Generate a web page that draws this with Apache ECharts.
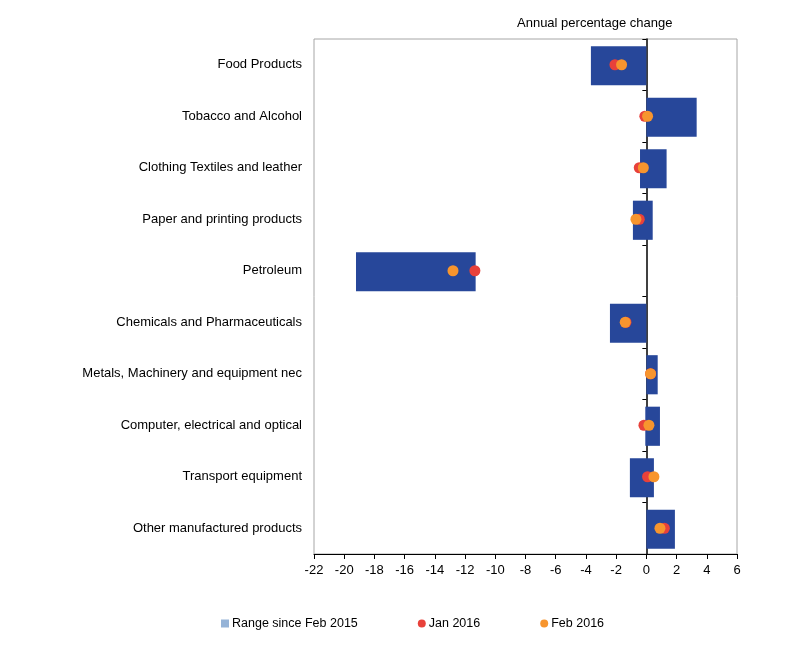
<!DOCTYPE html>
<html>
<head>
<meta charset="utf-8">
<script src="https://cdn.jsdelivr.net/npm/echarts@6/dist/echarts.min.js"></script>
<style>
  html, body { margin: 0; padding: 0; background: #fff; }
  #chart { width: 785px; height: 651px; }
</style>
</head>
<body>
<div id="chart"></div>
<script>
// values (annual % change)
var categories = [
    'Food Products',
    'Tobacco and Alcohol',
    'Clothing Textiles and leather',
    'Paper and printing products',
    'Petroleum',
    'Chemicals and Pharmaceuticals',
    'Metals, Machinery and equipment nec',
    'Computer, electrical and optical',
    'Transport equipment',
    'Other manufactured products'
];
var rangeLow  = [-3.67, 0, -0.42, -0.89, -19.22, -2.41, 0, -0.07, -1.09, 0];
var rangeHigh = [0, 3.33, 1.34, 0.42, -11.3, 0, 0.75, 0.9, 0.5, 1.89];
var jan2016   = [-2.08, -0.1, -0.47, -0.47, -11.35, -1.35, 0.28, -0.16, 0.08, 1.19];
var feb2016   = [-1.64, 0.08, -0.2, -0.69, -12.8, -1.4, 0.28, 0.17, 0.5, 0.9];
var xTicks = { min: -22, max: 6, interval: 2 };

var barColor = '#27479a',
    legendBoxColor = '#95b3d7',
    janColor = '#e8413a',
    febColor = '#f7952e',
    font = 'Liberation Sans, Arial, sans-serif',
    fontSize = 13;

var chart = echarts.init(document.getElementById('chart'));

var rangeData = [];
for (var i = 0; i < categories.length; i++)
    rangeData.push([rangeLow[i], rangeHigh[i], i]);

function pairs(arr) {
    var out = [];
    for (var i = 0; i < arr.length; i++)
        out.push([arr[i], i]);
    return out;
}

function renderRange(params, api) {
    var lo = api.coord([api.value(0), api.value(2)]),
        hi = api.coord([api.value(1), api.value(2)]),
        h = api.size([0, 1])[1] * 0.76;
    return {
        type: 'rect',
        shape: { x: lo[0], y: lo[1] - h / 2 + 1, width: hi[0] - lo[0], height: h },
        style: { fill: barColor }
    };
}

chart.setOption({
    animation: false,
    textStyle: { fontFamily: font },
    title: {
        text: 'Annual percentage change',
        left: 512,
        top: 12,
        textStyle: { fontSize: fontSize, fontWeight: 'normal', color: '#000', fontFamily: font }
    },
    grid: {
        left: 314, right: 48, top: 39, bottom: 97,
        show: true, borderColor: '#a6a6a6', borderWidth: 1,
        containLabel: false
    },
    legend: {
        top: 612,
        left: 216,
        itemWidth: 8,
        itemHeight: 8,
        itemGap: 60,
        textStyle: { fontSize: 12.5, color: '#000', fontFamily: font, padding: [0, 0, 0, -2] },
        data: [
            { name: 'Range since Feb 2015', icon: 'rect', itemStyle: { color: legendBoxColor } },
            { name: 'Jan 2016', icon: 'circle' },
            { name: 'Feb 2016', icon: 'circle' }
        ]
    },
    xAxis: {
        type: 'value',
        min: xTicks.min,
        max: xTicks.max,
        interval: xTicks.interval,
        axisLine: { show: true, onZero: false, lineStyle: { color: '#000', width: 1 } },
        axisTick: { show: true, length: 5, lineStyle: { color: '#000' } },
        axisLabel: { color: '#000', fontSize: fontSize, margin: 10, fontFamily: font },
        splitLine: { show: false }
    },
    yAxis: [{
        // category names at the left edge
        type: 'category',
        data: categories,
        inverse: true,
        position: 'left',
        axisLine: { show: false, onZero: false },
        axisTick: { show: false },
        axisLabel: { color: '#000', fontSize: fontSize, margin: 12, fontFamily: font, padding: [4, 0, 0, 0] },
        splitLine: { show: false }
    }, {
        // zero line with its ticks
        type: 'category',
        data: categories,
        inverse: true,
        position: 'left',
        axisLine: { show: true, onZero: true, lineStyle: { color: '#000', width: 1.5 } },
        axisTick: { show: true, length: 4, lineStyle: { color: '#000' } },
        axisLabel: { show: false },
        splitLine: { show: false }
    }],
    series: [{
        name: 'Range since Feb 2015',
        type: 'custom',
        renderItem: renderRange,
        encode: { x: [0, 1], y: 2 },
        itemStyle: { color: barColor },
        data: rangeData,
        z: 2
    }, {
        name: 'Jan 2016',
        type: 'scatter',
        symbolSize: 11,
        itemStyle: { color: janColor, opacity: 1 },
        data: pairs(jan2016),
        z: 3
    }, {
        name: 'Feb 2016',
        type: 'scatter',
        symbolSize: 11,
        itemStyle: { color: febColor, opacity: 1 },
        data: pairs(feb2016),
        z: 4
    }]
});
</script>
</body>
</html>
